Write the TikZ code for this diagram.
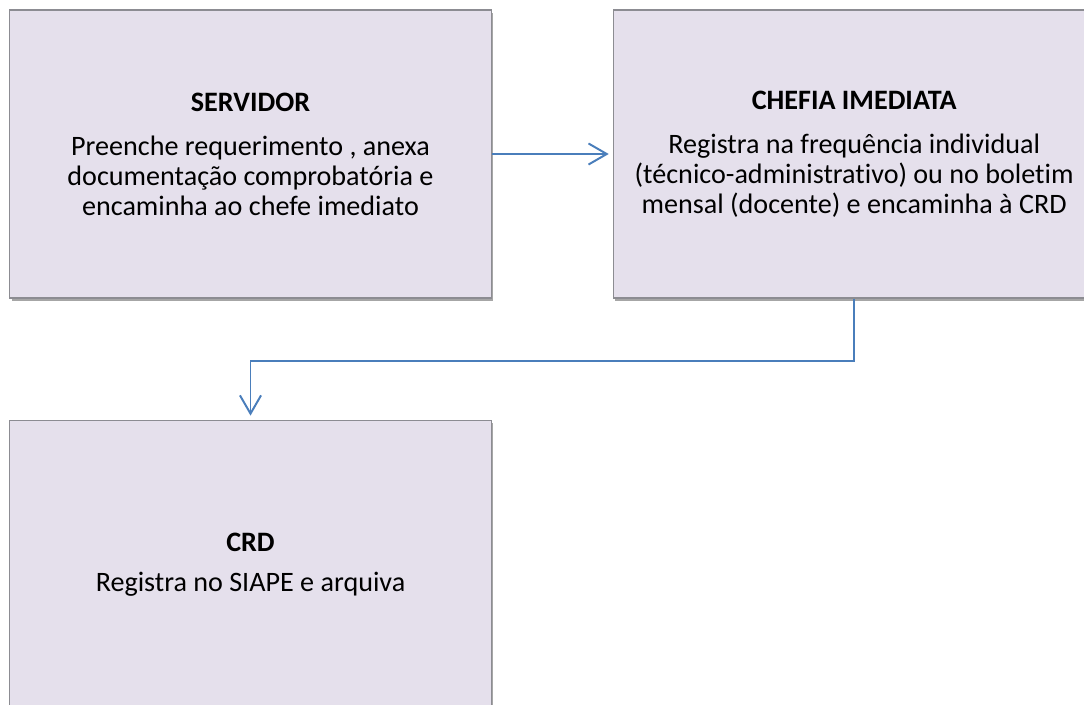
\documentclass[tikz,border=0pt]{standalone}
\usepackage{fontspec}
\setmainfont{Carlito}[Ligatures=NoCommon]
\usepackage{tikz}
\usetikzlibrary{arrows, arrows.meta}
\usetikzlibrary{positioning}
\usetikzlibrary{shadows}
\usepackage{xcolor}

\definecolor{boxfill}{RGB}{229,224,236}
\definecolor{boxline}{RGB}{140,140,146}
\definecolor{flowblue}{RGB}{74,126,187}

\tikzset{
	stagebox/.style={draw=boxline, line width=0.8pt, fill=boxfill,
		minimum width=12.03cm, minimum height=7.2cm, align=center,
		inner sep=0pt, font=\fontsize{20}{21.3}\selectfont,
		drop shadow={shadow xshift=1.2pt, shadow yshift=-2pt, opacity=0.35, fill=black}},
	flow/.style={draw=flowblue, line width=1.4pt,
		-{Straight Barb[length=13pt, width=15pt, line width=1.4pt]}, shorten >=3pt}
}

\begin{document}
\begin{tikzpicture}[x=0.025cm, y=-0.025cm, node distance=3.03cm]
	
	\useasboundingbox (0,0) rectangle (1084,704);
	
	%boxes
	\node[stagebox] (servidor) at (250.5,154) {\textbf{SERVIDOR}\\[10pt]
		Preenche requerimento , anexa\\
		documentação comprobatória e\\
		encaminha ao chefe imediato};
	\node[stagebox, right=of servidor] (chefia) {\textbf{CHEFIA IMEDIATA}\\[10pt]
		Registra na frequência individual\\
		(técnico-administrativo) ou no boletim\\
		mensal (docente) e encaminha à CRD};
	\node[stagebox, below=of servidor] (crd) {\textbf{CRD}\\[7pt]
		Registra no SIAPE e arquiva};
	
	%arrows
	\draw[flow] (servidor.east) -- (chefia.west);
	\draw[flow] (chefia.south) -- ++(0,62) -| (crd.north);
	
\end{tikzpicture}
\end{document}
